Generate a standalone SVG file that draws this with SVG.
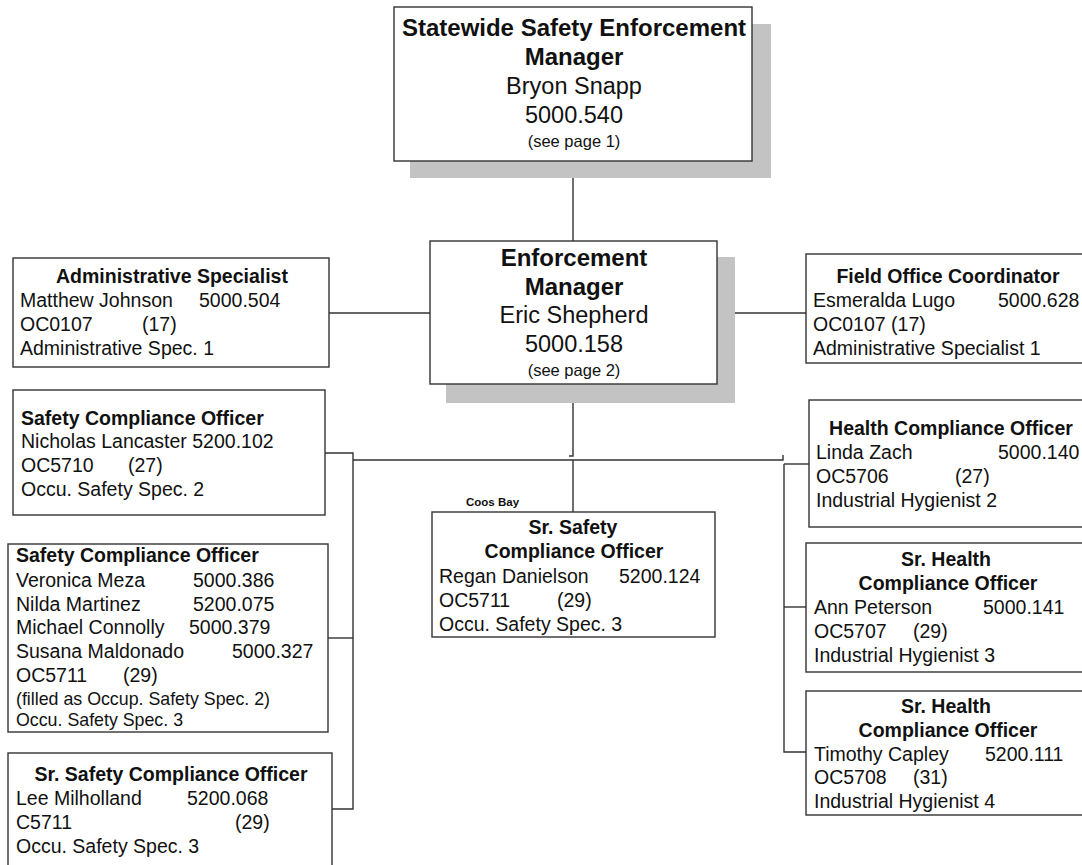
<svg xmlns="http://www.w3.org/2000/svg" width="1082" height="865" viewBox="0 0 1082 865">
  <style>
    text { font-family: "Liberation Sans", Arial, sans-serif; fill: #111; }
    .box { fill: #fff; stroke: #333; stroke-width: 1.4; }
    .shadow { fill: #c3c3c3; }
    .b { font-size: 19.5px; font-weight: bold; }
    .r { font-size: 19.5px; }
    .s { font-size: 17.8px; }
    .hb { font-size: 24px; font-weight: bold; }
    .hr { font-size: 23.5px; }
    .p { font-size: 16.5px; }
    .loc { font-size: 11.5px; font-weight: bold; }
    .mid { text-anchor: middle; }
    .wire { fill: none; stroke: #333; stroke-width: 1.4; }
  </style>

  <!-- reporting lines -->
  <g id="connectors">
    <path class="wire" d="M573,161 V241"/>
    <path class="wire" d="M329,313 H430"/>
    <path class="wire" d="M717,313 H806"/>
    <path class="wire" d="M573,384 V456 H569"/>
    <path class="wire" d="M353,460 H783 V455"/>
    <path class="wire" d="M573,460 V512"/>
    <path class="wire" d="M325,453 H353 V809 H332"/>
    <path class="wire" d="M328,638 H353"/>
    <path class="wire" d="M784,464 V752 H806"/>
    <path class="wire" d="M784,464 H809"/>
    <path class="wire" d="M784,607 H806"/>
  </g>

  <g id="statewide-manager">
    <rect class="shadow" x="410" y="24" width="361" height="154"/>
    <rect class="box" x="394" y="7" width="358" height="154"/>
    <text class="hb mid" x="574" y="36">Statewide Safety Enforcement</text>
    <text class="hb mid" x="574" y="65">Manager</text>
    <text class="hr mid" x="574" y="94">Bryon Snapp</text>
    <text class="hr mid" x="574" y="123">5000.540</text>
    <text class="p mid" x="574" y="147">(see page 1)</text>
  </g>

  <g id="enforcement-manager">
    <rect class="shadow" x="446" y="257" width="289" height="146"/>
    <rect class="box" x="430" y="241" width="287" height="143"/>
    <text class="hb mid" x="574" y="266">Enforcement</text>
    <text class="hb mid" x="574" y="295">Manager</text>
    <text class="hr mid" x="574" y="323">Eric Shepherd</text>
    <text class="hr mid" x="574" y="352">5000.158</text>
    <text class="p mid" x="574" y="376">(see page 2)</text>
  </g>

  <g id="admin-specialist">
    <rect class="box" x="13" y="258" width="316" height="109"/>
    <text class="b mid" x="172" y="283">Administrative Specialist</text>
    <text class="r" x="20" y="307">Matthew Johnson</text>
    <text class="r" x="199" y="307">5000.504</text>
    <text class="r" x="20" y="331">OC0107</text>
    <text class="r" x="142" y="331">(17)</text>
    <text class="r" x="20" y="355">Administrative Spec. 1</text>
  </g>

  <g id="field-office-coordinator">
    <rect class="box" x="806" y="254" width="290" height="109"/>
    <text class="b mid" x="948" y="283">Field Office Coordinator</text>
    <text class="r" x="813" y="307">Esmeralda Lugo</text>
    <text class="r" x="998" y="307">5000.628</text>
    <text class="r" x="813" y="331">OC0107  (17)</text>
    <text class="r" x="813" y="355">Administrative Specialist 1</text>
  </g>

  <g id="safety-officer-lancaster">
    <rect class="box" x="13" y="390" width="312" height="125"/>
    <text class="b" x="21" y="425">Safety Compliance Officer</text>
    <text class="r" x="21" y="448">Nicholas Lancaster 5200.102</text>
    <text class="r" x="21" y="472">OC5710</text>
    <text class="r" x="128" y="472">(27)</text>
    <text class="r" x="21" y="496">Occu. Safety Spec. 2</text>
  </g>

  <g id="safety-officers-group">
    <rect class="box" x="8" y="544" width="320" height="188"/>
    <text class="b" x="16" y="562">Safety Compliance Officer</text>
    <text class="r" x="16" y="587">Veronica Meza</text>
    <text class="r" x="193" y="587">5000.386</text>
    <text class="r" x="16" y="611">Nilda Martinez</text>
    <text class="r" x="193" y="611">5200.075</text>
    <text class="r" x="16" y="634">Michael Connolly</text>
    <text class="r" x="189" y="634">5000.379</text>
    <text class="r" x="16" y="658">Susana Maldonado</text>
    <text class="r" x="232" y="658">5000.327</text>
    <text class="r" x="16" y="682">OC5711</text>
    <text class="r" x="123" y="682">(29)</text>
    <text class="s" x="16" y="705">(filled as Occup. Safety Spec. 2)</text>
    <text class="s" x="16" y="726">Occu. Safety Spec. 3</text>
  </g>

  <g id="sr-safety-officer-milholland">
    <rect class="box" x="8" y="753" width="324" height="130"/>
    <text class="b mid" x="171" y="781">Sr. Safety Compliance Officer</text>
    <text class="r" x="16" y="805">Lee Milholland</text>
    <text class="r" x="187" y="805">5200.068</text>
    <text class="r" x="16" y="829">C5711</text>
    <text class="r" x="235" y="829">(29)</text>
    <text class="r" x="16" y="853">Occu. Safety Spec. 3</text>
  </g>

  <g id="sr-safety-officer-coos-bay">
    <text class="loc" x="466" y="506">Coos Bay</text>
    <rect class="box" x="432" y="512" width="283" height="125"/>
    <text class="b mid" x="573" y="534">Sr. Safety</text>
    <text class="b mid" x="574" y="558">Compliance Officer</text>
    <text class="r" x="439" y="583">Regan Danielson</text>
    <text class="r" x="619" y="583">5200.124</text>
    <text class="r" x="439" y="607">OC5711</text>
    <text class="r" x="557" y="607">(29)</text>
    <text class="r" x="439" y="631">Occu. Safety Spec. 3</text>
  </g>

  <g id="health-officer-zach">
    <rect class="box" x="809" y="400" width="290" height="127"/>
    <text class="b mid" x="951" y="435">Health Compliance Officer</text>
    <text class="r" x="816" y="459">Linda Zach</text>
    <text class="r" x="998" y="459">5000.140</text>
    <text class="r" x="816" y="483">OC5706</text>
    <text class="r" x="955" y="483">(27)</text>
    <text class="r" x="816" y="507">Industrial Hygienist 2</text>
  </g>

  <g id="sr-health-officer-peterson">
    <rect class="box" x="806" y="543" width="290" height="129"/>
    <text class="b mid" x="946" y="566">Sr. Health</text>
    <text class="b mid" x="948" y="590">Compliance Officer</text>
    <text class="r" x="814" y="614">Ann Peterson</text>
    <text class="r" x="983" y="614">5000.141</text>
    <text class="r" x="814" y="638">OC5707</text>
    <text class="r" x="913" y="638">(29)</text>
    <text class="r" x="814" y="662">Industrial Hygienist 3</text>
  </g>

  <g id="sr-health-officer-capley">
    <rect class="box" x="806" y="691" width="290" height="124"/>
    <text class="b mid" x="946" y="713">Sr. Health</text>
    <text class="b mid" x="948" y="737">Compliance Officer</text>
    <text class="r" x="814" y="761">Timothy Capley</text>
    <text class="r" x="985" y="761">5200.111</text>
    <text class="r" x="814" y="784">OC5708</text>
    <text class="r" x="913" y="784">(31)</text>
    <text class="r" x="814" y="808">Industrial Hygienist 4</text>
  </g>
</svg>
